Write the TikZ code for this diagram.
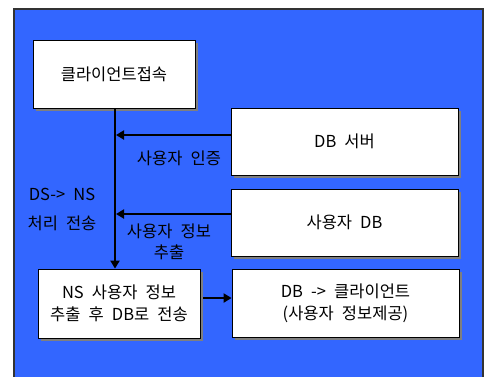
\documentclass[tikz,border=0pt]{standalone}
\usepackage{fontspec}
\setmainfont{Noto Sans CJK KR}[WordSpace=2.2]
\usetikzlibrary{arrows.meta}
\definecolor{bgblue}{HTML}{3366FF}
\definecolor{shadowgray}{HTML}{7F7F7F}
\tikzset{
  box/.style={draw=black, line width=0.8pt, fill=white, inner sep=0pt, align=center,
    font=\fontsize{16.5}{22}\selectfont},
  conn/.style={line width=2.6pt, -{Triangle[length=8pt,width=9pt]}},
  lbl/.style={font=\fontsize{16.5}{21}\selectfont, inner sep=0pt, align=center}
}
\begin{document}
\begin{tikzpicture}[x=1pt,y=-1pt]
\useasboundingbox (0,0) rectangle (484,376);
\clip (0,0) rectangle (484,376);
\fill[white] (0,0) rectangle (484,376);
\draw[fill=bgblue, draw=black!80, line width=1.5pt] (14,9) rectangle (483,390);
% shadows
\fill[shadowgray] (36,43) rectangle (198,111);
\fill[shadowgray] (234,111) rectangle (461,178);
\fill[shadowgray] (234,192) rectangle (461,259);
\fill[shadowgray] (41,272) rectangle (203,341);
\fill[shadowgray] (235,272) rectangle (462,340);
% boxes
\node[box, minimum width=162pt, minimum height=68pt] (c1) at (114,74) {클라이언트접속};
\node[box, minimum width=227pt, minimum height=67pt] (db) at (344.5,141.5) {\raisebox{-3pt}{DB 서버}};
\node[box, minimum width=227pt, minimum height=67pt] (udb) at (344.5,222.5) {\raisebox{-2pt}{사용자 DB}};
\node[box, minimum width=162pt, minimum height=69pt] (ns) at (119,303.5) {NS 사용자 정보\\추출 후 DB로 전송};
\node[box, minimum width=227pt, minimum height=68pt] (dc) at (345.5,303) {DB -> 클라이언트\\(사용자 정보제공)};
% connectors
\coordinate (vx) at (115,0);
\coordinate (a1) at (116,135);
\coordinate (a2) at (116,214);
\draw[conn] (c1.south -| vx) -- (ns.north -| vx);
\draw[conn] (db.west |- a1) -- (a1);
\draw[conn] (udb.west |- a2) -- (a2);
\draw[conn] (ns.east |- 0,298) ++(3,0) coordinate (a3s) -- (dc.west |- a3s);
% labels
\node[lbl] (l1) at (179,158) {사용자 인증};
\node[lbl] (l2) at (62,194) {DS-> NS};
\node[lbl] (l3) at (62,223) {처리 전송};
\node[lbl] (l4) at (169,242) {사용자 정보\\추출};
\end{tikzpicture}
\end{document}
